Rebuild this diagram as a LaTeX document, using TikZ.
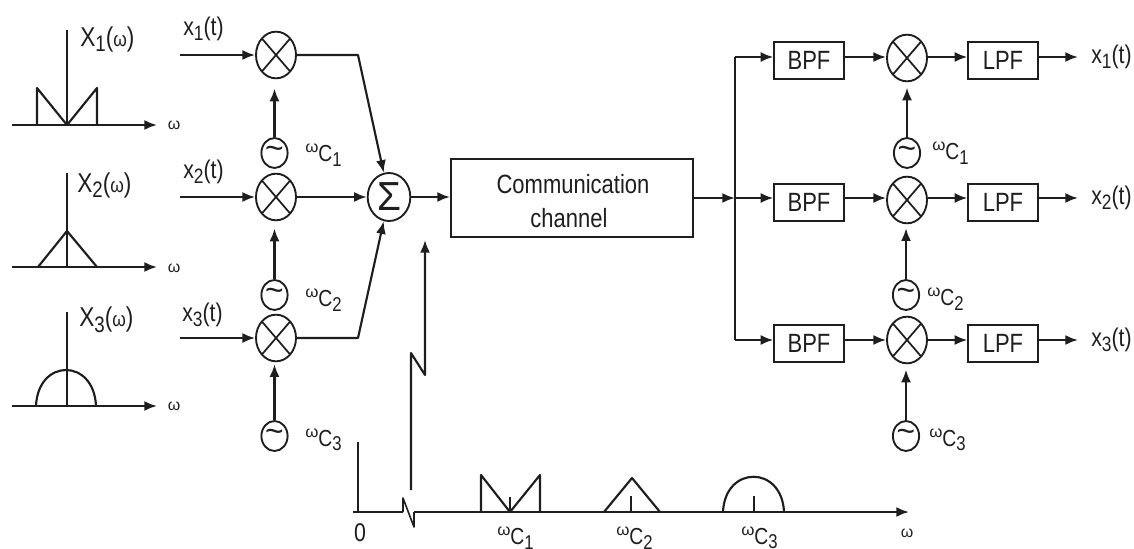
\documentclass[tikz,border=0pt]{standalone}
\usepackage{fontspec}
\setmainfont{Liberation Sans}
\usetikzlibrary{arrows.meta,shapes.geometric}
\definecolor{ink}{HTML}{1E1E1E}
\newcommand{\fs}[1]{\fontsize{#1}{#1}\selectfont}
\newcommand{\tall}[1]{\scalebox{1}[1.2]{#1}}
\newcommand{\wcs}[1]{\raisebox{3.5pt}{\scalebox{1.15}[1.1]{\fs{11}ω}}\raisebox{-3pt}{\tall{\fs{14.5}C}}\raisebox{-6.5pt}{\tall{\fs{12.5}#1}}}
\newcommand{\sgn}[2]{\tall{\fs{16}#1\raisebox{-3pt}{\fs{13}#2}(t)}}
\newcommand{\Xw}[1]{\tall{\fs{17}X\raisebox{-3.5pt}{\fs{14}#1}(\fs{13}ω\fs{17})}}
\newcommand{\tld}{\scalebox{0.85}[0.9]{\fs{28}\raisebox{-3pt}{\char`\~}}}
\tikzset{
  wire/.style={draw=ink,line width=1.6pt,line join=round},
  arr/.style={wire,-{Latex[length=9.5pt,width=7.5pt]}},
  mixer/.style={ellipse,draw=ink,line width=1.4pt,minimum width=30pt,minimum height=35pt,inner sep=0pt,
    path picture={\draw[ink,line width=1.3pt]
      (path picture bounding box.south west) -- (path picture bounding box.north east)
      (path picture bounding box.north west) -- (path picture bounding box.south east);}},
  osc/.style={ellipse,draw=ink,line width=1.4pt,minimum width=19.5pt,minimum height=22.5pt,inner sep=0pt,text=ink},
  summer/.style={ellipse,draw=ink,line width=1.4pt,minimum width=32pt,minimum height=36pt,inner sep=0pt,
    font=\fs{29},text=ink},
  filt/.style={rectangle,draw=ink,line width=1.5pt,minimum width=52pt,minimum height=27.5pt,inner sep=0pt,text=ink},
  chan/.style={rectangle,draw=ink,line width=1.5pt,minimum width=181.5pt,minimum height=58.5pt,inner sep=0pt},
  lab/.style={inner sep=0pt,text=ink,anchor=west},
  om/.style={inner sep=0pt,text=ink,font=\fs{12}},
  big/.style={inner sep=0pt,text=ink,font=\fs{16.5}},
}
\begin{document}
\begin{tikzpicture}[x=0.75pt,y=-0.75pt]
\useasboundingbox (0,0) rectangle (1134,549);
\clip (0,0) rectangle (1134,549);
% left spectra
\coordinate (a1s) at (12,125); \coordinate (a1e) at (157,125);
\coordinate (a2s) at (12,267); \coordinate (a2e) at (157,267);
\coordinate (a3s) at (12,406); \coordinate (a3e) at (157,406);
\draw[arr] (a1s) -- (a1e);
\draw[arr] (a2s) -- (a2e);
\draw[arr] (a3s) -- (a3e);
\draw[wire] (67,30) -- (67,125);
\draw[wire] (37,125) -- (37,88) -- (67,125) -- (97,88) -- (97,125);
\draw[wire] (67,173) -- (67,267);
\draw[wire] (38,267) -- (67,231) -- (97,267);
\draw[wire] (67,312) -- (67,406);
\draw[wire] (36,406) .. controls (38,358) and (94,358) .. (96,406);
\node[om] (w1) at (174,125) {ω};
\node[om] (w2) at (174,268) {ω};
\node[om] (w3) at (174,406) {ω};
\node[lab] (X1) at (80,39) {\Xw{1}};
\node[lab] (X2) at (77,185) {\Xw{2}};
\node[lab] (X3) at (79,320) {\Xw{3}};
% mixers left
\node[mixer] (m1) at (276,55) {};
\node[mixer] (m2) at (276,197) {};
\node[mixer] (m3) at (276,338) {};
\node[osc] (o1) at (274.5,153) {\tld};
\node[osc] (o2) at (274.5,295) {\tld};
\node[osc] (o3) at (274.5,436) {\tld};
\node[summer] (s) at (389,197) {\scalebox{1}[1.05]{Σ}};
\node[chan] (ch) at (572,198) {};
\node[big] (cht1) at (573,184) {\tall{Communication}};
\node[big] (cht2) at (569,218) {\tall{channel}};
\coordinate (i1) at (180,55); \coordinate (i2) at (180,197); \coordinate (i3) at (180,338);
\node[lab] (x1) at (183,29) {\sgn{x}{1}};
\node[lab] (x2) at (183,172) {\sgn{x}{2}};
\node[lab] (x3) at (182,315) {\sgn{x}{3}};
\draw[arr] (i1) -- (m1);
\draw[arr] (i2) -- (m2);
\draw[arr] (i3) -- (m3);
\draw[arr,shorten >=7pt] (o1.north) -- (o1.north |- m1.south);
\draw[arr,shorten >=5.5pt] (o2.north) -- (o2.north |- m2.south);
\draw[arr,shorten >=1.5pt] (o3.north) -- (o3.north |- m3.south);
\node[lab] (wc1) at (305,155) {\wcs{1}};
\node[lab] (wc2) at (305,300) {\wcs{2}};
\node[lab] (wc3) at (305,440) {\wcs{3}};
\coordinate (k1) at (358,55); \coordinate (k3) at (358,338);
\draw[arr] (m1) -- (k1) -- (s);
\draw[arr] (m2) -- (s);
\draw[arr] (m3) -- (k3) -- (s);
\draw[arr] (s) -- (s -| ch.west);
% right
\coordinate (bt) at (735,57); \coordinate (bm) at (735,198); \coordinate (bb) at (735,340);
\draw[arr] (ch.east |- bm) -- (bm);
\node[filt] (b1) at (809,60.5) {\tall{\fs{16.5}BPF}};
\node[filt] (b2) at (809,202.5) {\tall{\fs{16.5}BPF}};
\node[filt] (b3) at (809,343.5) {\tall{\fs{16.5}BPF}};
\node[mixer] (r1) at (907,58) {};
\node[mixer] (r2) at (907,200) {};
\node[mixer] (r3) at (907,340) {};
\node[filt] (l1) at (1003,60.5) {\tall{\fs{16.5}LPF}};
\node[filt] (l2) at (1003,202.5) {\tall{\fs{16.5}LPF}};
\node[filt] (l3) at (1003,343.5) {\tall{\fs{16.5}LPF}};
\draw[wire] (bt) -- (bb);
\draw[arr] (bt) -- (bt -| b1.west);
\draw[arr] (bm) -- (bm -| b2.west);
\draw[arr] (bb) -- (bb -| b3.west);
\draw[arr] (bt -| b1.east) -- (bt -| r1.west);
\draw[arr] (bm -| b2.east) -- (bm -| r2.west);
\draw[arr] (bb -| b3.east) -- (bb -| r3.west);
\draw[arr] (bt -| r1.east) -- (bt -| l1.west);
\draw[arr] (bm -| r2.east) -- (bm -| l2.west);
\draw[arr] (bb -| r3.east) -- (bb -| l3.west);
\coordinate (e1) at (1078,57); \coordinate (e2) at (1078,198); \coordinate (e3) at (1078,340);
\draw[arr] (e1 -| l1.east) -- (e1);
\draw[arr] (e2 -| l2.east) -- (e2);
\draw[arr] (e3 -| l3.east) -- (e3);
\node[lab] (y1) at (1091,57) {\sgn{x}{1}};
\node[lab] (y2) at (1091,198) {\sgn{x}{2}};
\node[lab] (y3) at (1091,340) {\sgn{x}{3}};
\node[osc] (p1) at (907,153) {\tld};
\node[osc] (p2) at (906,295) {\tld};
\node[osc] (p3) at (906,436) {\tld};
\draw[arr,shorten >=4pt] (p1) -- (r1);
\draw[arr,shorten >=3pt] (p2.north) -- (p2.north |- r2.south);
\draw[arr,shorten >=4pt] (p3.north) -- (p3.north |- r3.south);
\node[lab] (wr1) at (932,153) {\wcs{1}};
\node[lab] (wr2) at (927,299) {\wcs{2}};
\node[lab] (wr3) at (929,440) {\wcs{3}};
% bottom spectrum
\coordinate (z0) at (353,512); \coordinate (z1) at (403,512); \coordinate (z2) at (403,498);
\coordinate (z3) at (414,527); \coordinate (z4) at (414,512); \coordinate (z5) at (909,512);
\draw[wire] (z0) -- (z1);
\draw[wire,line width=1.2pt] (z1) -- (z2) -- (z3) -- (z4);
\draw[arr] (z4) -- (z5);
\draw[wire] (358,442) -- (358,512);
\draw[wire] (481,512) -- (481,475) -- (510,512) -- (540,475) -- (540,512);
\draw[wire] (510,497) -- (510,512);
\draw[wire] (604,512) -- (632,478) -- (660,512);
\draw[wire] (631,496) -- (631,512);
\draw[wire] (723,512) .. controls (725,465) and (782,465) .. (784,512);
\draw[wire] (754,496) -- (754,512);
\node[inner sep=0pt,text=ink] (zero) at (360,533) {\tall{\fs{16}0}};
\node[lab] (t1) at (497,538) {\wcs{1}};
\node[lab] (t2) at (616,538) {\wcs{2}};
\node[lab] (t3) at (741,538) {\wcs{3}};
\node[om] (tw) at (907,533) {ω};
% lightning link
\coordinate (f0) at (411,490); \coordinate (f1) at (411,353);
\coordinate (f2) at (425,375); \coordinate (f3) at (425,240);
\draw[arr] (f0) -- (f1) -- (f2) -- (f3);
\end{tikzpicture}
\end{document}
